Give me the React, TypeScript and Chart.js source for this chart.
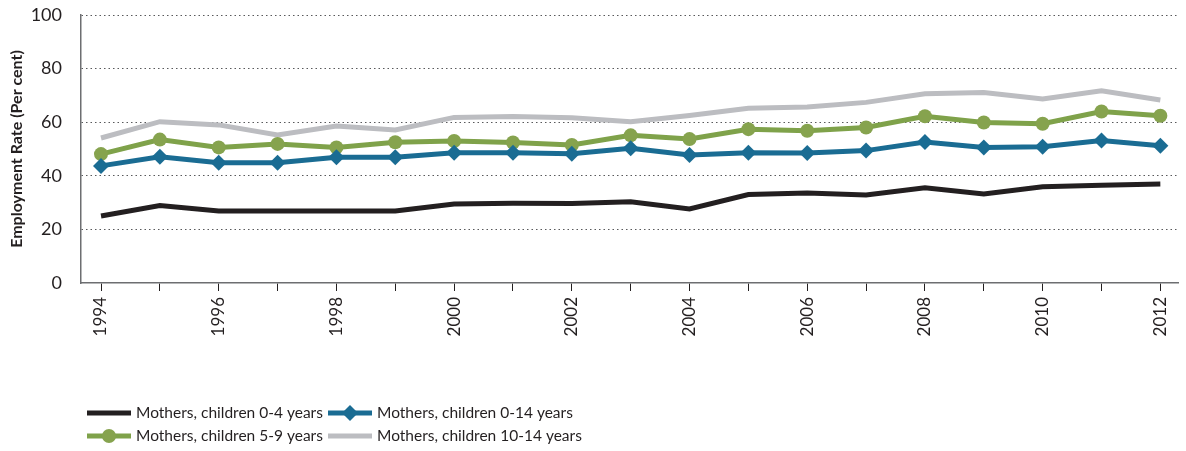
import React, { useEffect, useRef } from "react";
import { Chart, registerables } from "chart.js";

Chart.register(...registerables);

const years = [1994, 1995, 1996, 1997, 1998, 1999, 2000, 2001, 2002, 2003, 2004, 2005, 2006, 2007, 2008, 2009, 2010, 2011, 2012];
const children0to4 = [25.0, 28.9, 26.9, 26.9, 26.9, 26.9, 29.5, 29.8, 29.7, 30.3, 27.6, 33.0, 33.6, 32.8, 35.5, 33.2, 35.9, 36.5, 36.9];
const children0to14 = [43.7, 47.1, 44.9, 44.9, 46.9, 46.9, 48.6, 48.6, 48.2, 50.3, 47.8, 48.6, 48.5, 49.4, 52.6, 50.6, 50.8, 53.2, 51.2];
const children5to9 = [48.1, 53.5, 50.6, 51.9, 50.6, 52.5, 53.0, 52.4, 51.5, 55.1, 53.7, 57.4, 56.8, 58.0, 62.2, 59.9, 59.4, 64.0, 62.4];
const children10to14 = [54.1, 60.2, 59.0, 55.2, 58.6, 57.1, 61.8, 62.1, 61.7, 60.2, 62.5, 65.2, 65.7, 67.4, 70.6, 71.1, 68.7, 71.7, 68.3];
const seriesLabels = [
  "Mothers, children 0-4 years",
  "Mothers, children 0-14 years",
  "Mothers, children 5-9 years",
  "Mothers, children 10-14 years",
];
const yTicks = [0, 20, 40, 60, 80, 100];
const yTitle = "Employment Rate (Per cent)";

const FONT = "Lato, 'Open Sans', sans-serif";

const legendPlugin = {
  id: "customLegend",
  afterDraw(chart: any) {
    const ctx = chart.ctx;
    const slots = [
      { ds: 0, x: 87, y: 413 },
      { ds: 1, x: 328, y: 413 },
      { ds: 2, x: 87, y: 436 },
      { ds: 3, x: 328, y: 436 },
    ];
    ctx.save();
    for (const s of slots) {
      const d = chart.data.datasets[s.ds];
      ctx.strokeStyle = d.borderColor;
      ctx.lineWidth = 5;
      ctx.beginPath();
      ctx.moveTo(s.x, s.y);
      ctx.lineTo(s.x + 44, s.y);
      ctx.stroke();
      if (d.pointRadius > 0) {
        ctx.fillStyle = d.pointBackgroundColor;
        ctx.beginPath();
        const cx = s.x + 22;
        const r = d.pointRadius;
        if (d.pointStyle === "rectRot") {
          ctx.moveTo(cx, s.y - r);
          ctx.lineTo(cx + r, s.y);
          ctx.lineTo(cx, s.y + r);
          ctx.lineTo(cx - r, s.y);
          ctx.closePath();
        } else {
          ctx.arc(cx, s.y, r, 0, Math.PI * 2);
        }
        ctx.fill();
      }
      ctx.fillStyle = "#231f20";
      ctx.font = `15.5px ${FONT}`;
      ctx.textBaseline = "middle";
      ctx.textAlign = "left";
      ctx.fillText(d.label, s.x + 49, s.y);
    }
    ctx.restore();
  },
};

export default function App() {
  const ref = useRef<HTMLCanvasElement | null>(null);
  useEffect(() => {
    if (!ref.current) return;
    const chart = new Chart(ref.current, {
      type: "line",
      data: {
        datasets: [
          {
            label: seriesLabels[0],
            data: years.map((y, i) => ({ x: y, y: children0to4[i] })),
            borderColor: "#231f20",
            backgroundColor: "#231f20",
            borderWidth: 5,
            pointRadius: 0,
            tension: 0,
          },
          {
            label: seriesLabels[1],
            data: years.map((y, i) => ({ x: y, y: children0to14[i] })),
            borderColor: "#1a6c93",
            backgroundColor: "#1a6c93",
            pointBackgroundColor: "#1a6c93",
            pointBorderWidth: 0,
            borderWidth: 5,
            pointRadius: 8,
            pointStyle: "rectRot",
            tension: 0,
          },
          {
            label: seriesLabels[2],
            data: years.map((y, i) => ({ x: y, y: children5to9[i] })),
            borderColor: "#7fa24a",
            backgroundColor: "#7fa24a",
            pointBackgroundColor: "#86a34e",
            pointBorderWidth: 0,
            borderWidth: 5,
            pointRadius: 7,
            pointStyle: "circle",
            tension: 0,
          },
          {
            label: seriesLabels[3],
            data: years.map((y, i) => ({ x: y, y: children10to14[i] })),
            borderColor: "#bcbdc1",
            backgroundColor: "#bcbdc1",
            borderWidth: 5,
            pointRadius: 0,
            tension: 0,
          },
        ],
      } as any,
      options: {
        animation: false,
        responsive: false,
        devicePixelRatio: 1,
        layout: { padding: { left: 0, right: 6, top: 15, bottom: 0 } },
        plugins: { legend: { display: false }, tooltip: { enabled: false } },
        scales: {
          x: {
            type: "linear",
            min: 1993.66,
            max: 2012.3,
            afterFit: (s: any) => {
              s.height = 168;
              s.paddingLeft = 0;
              s.paddingRight = 0;
              s.paddingTop = 0;
              s.paddingBottom = 0;
            },
            afterBuildTicks: (s: any) => { s.ticks = years.map((v) => ({ value: v })); },
            border: { display: true, color: "#6d6e71", width: 1.5 },
            grid: {
              drawOnChartArea: false,
              drawTicks: true,
              tickLength: 8,
              color: "#231f20",
              lineWidth: 1,
            },
            ticks: {
              autoSkip: false,
              minRotation: 90,
              maxRotation: 90,
              padding: 6,
              color: "#231f20",
              font: { family: FONT, size: 17 },
              callback: (v: any) => (Number(v) % 2 === 0 ? String(v) : ""),
            },
          },
          y: {
            min: 0,
            max: 100,
            afterFit: (s: any) => {
              s.width = 81;
              s.paddingTop = 0;
              s.paddingBottom = 0;
              s.paddingLeft = 0;
              s.paddingRight = 0;
            },
            afterBuildTicks: (s: any) => { s.ticks = yTicks.map((v) => ({ value: v })); },
            border: { display: true, color: "#6d6e71", width: 1.5, dash: [1.5, 3] },
            grid: {
              drawTicks: false,
              color: (c: any) => (c.tick && c.tick.value === 0 ? "rgba(0,0,0,0)" : "#58595b"),
              lineWidth: 1,
            },
            ticks: {
              padding: 19,
              color: "#231f20",
              font: { family: FONT, size: 18 },
            },
            title: {
              display: true,
              text: yTitle,
              color: "#231f20",
              font: { family: FONT, size: 16, weight: "bold" },
              padding: { top: 7, bottom: 0 },
            },
          },
        },
      } as any,
      plugins: [legendPlugin],
    });
    return () => chart.destroy();
  }, []);
  return (
    <div style={{ position: "fixed", left: 0, top: 0, width: 1186, height: 451, background: "#fff" }}>
      <canvas ref={ref} width={1186} height={451} />
    </div>
  );
}
